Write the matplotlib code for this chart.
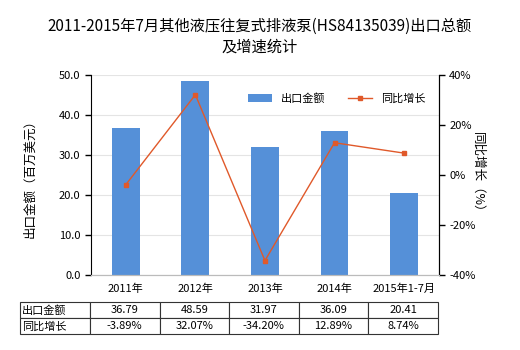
import numpy as np
import matplotlib
matplotlib.use('Agg')
import matplotlib.pyplot as plt

plt.rcParams['font.family'] = ['Noto Sans CJK SC', 'DejaVu Sans']

#chart data
categories = ['2011年', '2012年', '2013年', '2014年', '2015年1-7月']
export_value = [36.79, 48.59, 31.97, 36.09, 20.41]
growth = [-3.89, 32.07, -34.20, 12.89, 8.74]
value_labels = ['36.79', '48.59', '31.97', '36.09', '20.41']
growth_labels = ['-3.89%', '32.07%', '-34.20%', '12.89%', '8.74%']

bar_color = '#5590d8'
line_color = '#e0592a'

fig = plt.figure(figsize=(5.2, 3.5), dpi=100)
ax = fig.add_axes([0.175, 0.214, 0.669, 0.572])
ax2 = ax.twinx()

x = np.arange(len(categories))
ax.bar(x, export_value, 0.4, color=bar_color, label='出口金额', zorder=2)
ax2.plot(x, growth, color=line_color, lw=1, marker='s', ms=3,
         label='同比增长', zorder=3)

ax.set_xlim(-0.5, len(categories) - 0.5)
ax.set_ylim(0, 50)
ax.set_yticks(np.arange(0, 51, 10))
ax.set_yticklabels(['%.1f' % v for v in np.arange(0, 51, 10)])
ax2.set_ylim(-40, 40)
ax2.set_yticks(np.arange(-40, 41, 20))
ax2.set_yticklabels(['%d%%' % v for v in np.arange(-40, 41, 20)])

ax.set_xticks(x)
ax.set_xticklabels(categories)
ax.tick_params(axis='x', length=0, labelsize=8, pad=6)
ax.tick_params(axis='y', labelsize=8, length=4, width=1)
ax2.tick_params(axis='y', labelsize=8, length=4, width=1)

ax.yaxis.grid(True, color='#e4e4e4', lw=0.8, zorder=0)
ax.set_axisbelow(True)
for a in (ax, ax2):
	a.spines['top'].set_visible(False)
	a.spines['bottom'].set_color('#bbbbbb')
ax2.spines['left'].set_visible(False)

ax.set_ylabel('出口金额（百万美元）', fontsize=9, labelpad=16)
ax2.set_ylabel('同比增长（%）', fontsize=9, rotation=270, labelpad=6)

fig.text(0.5, 0.95, '2011-2015年7月其他液压往复式排液泵(HS84135039)出口总额\n及增速统计',
         ha='center', va='top', fontsize=11, linespacing=1.35)

#legend
h1, l1 = ax.get_legend_handles_labels()
h2, l2 = ax2.get_legend_handles_labels()
ax2.legend(h1 + h2, l1 + l2, loc='upper right', bbox_to_anchor=(0.99, 0.96),
           ncol=2, frameon=False, fontsize=8, handlelength=2.2,
           columnspacing=2.0)

#data table below the chart
cells = [['出口金额'] + value_labels, ['同比增长'] + growth_labels]
tbl = ax.table(cellText=cells, bbox=[-0.204, -0.295, 1.201, 0.16],
               cellLoc='center')
tbl.auto_set_font_size(False)
tbl.set_fontsize(8)
widths = [70] + [69.6] * len(categories)
total = sum(widths)
for (r, c), cell in tbl.get_celld().items():
	cell.set_width(widths[c] / total)
	cell.set_edgecolor('#333333')
	cell.set_linewidth(0.8)
	if c == 0:
		cell._loc = 'left'
		cell.PAD = 0.03
		cell.get_text().set_ha('left')

fig.savefig('out.png', dpi=100)
